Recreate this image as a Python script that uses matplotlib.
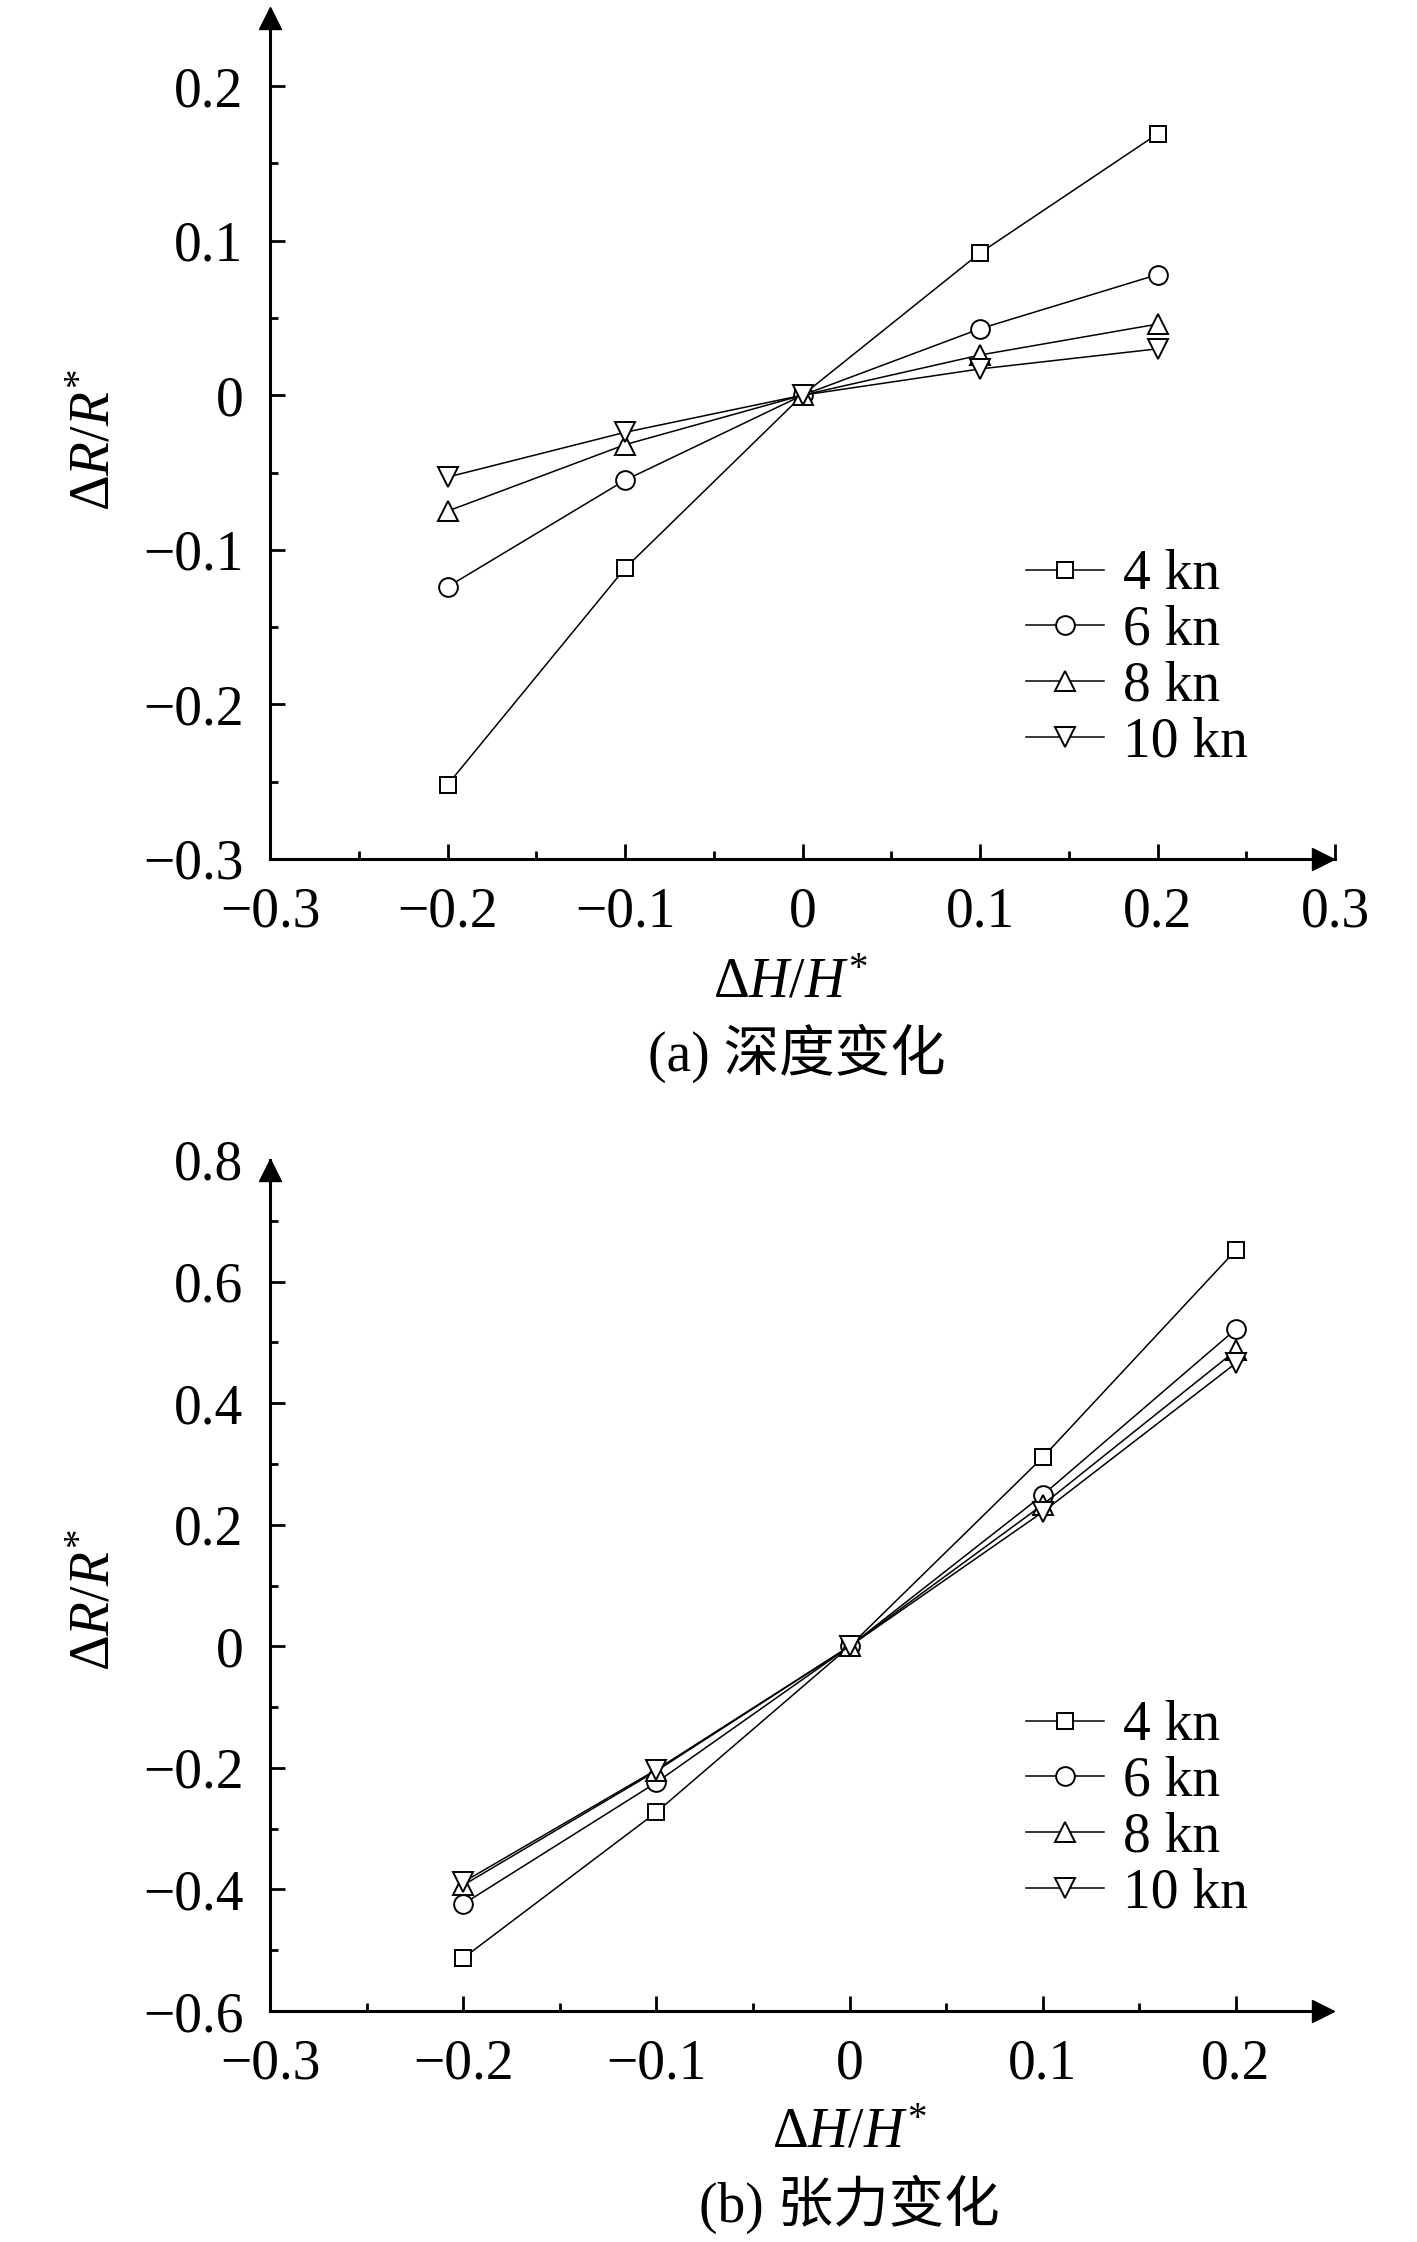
import matplotlib
matplotlib.use('Agg')
import matplotlib.pyplot as plt
import matplotlib.transforms as mtransforms
from matplotlib.ticker import MultipleLocator

plt.rcParams['font.family'] = ['Liberation Serif', 'Noto Sans CJK SC']
plt.rcParams['mathtext.fontset'] = 'custom'
plt.rcParams['mathtext.rm'] = 'Liberation Serif'
plt.rcParams['mathtext.it'] = 'Liberation Serif:italic'

x = [-0.2, -0.1, 0.0, 0.1, 0.2]
labels = ['4 kn', '6 kn', '8 kn', '10 kn']
markers = ['s', 'o', '^', 'v']
msizes = [12, 13.5, 15, 15]

# (a) depth change
depth_4 = [-0.252, -0.112, 0.0, 0.092, 0.169]
depth_6 = [-0.124, -0.055, 0.0, 0.043, 0.078]
depth_8 = [-0.075, -0.032, 0.0, 0.026, 0.046]
depth_10 = [-0.053, -0.024, 0.0, 0.017, 0.030]

# (b) tension change
tens_4 = [-0.513, -0.273, 0.0, 0.311, 0.652]
tens_6 = [-0.424, -0.224, 0.0, 0.249, 0.522]
tens_8 = [-0.393, -0.205, 0.0, 0.233, 0.487]
tens_10 = [-0.388, -0.203, 0.0, 0.221, 0.466]

xticks_a = [-0.3, -0.2, -0.1, 0, 0.1, 0.2, 0.3]
yticks_a = [-0.3, -0.2, -0.1, 0, 0.1, 0.2]
xticks_b = [-0.3, -0.2, -0.1, 0, 0.1, 0.2]
yticks_b = [-0.6, -0.4, -0.2, 0, 0.2, 0.4, 0.6, 0.8]

FS = 40
W, H = 1417, 2242


def fmt(v):
    if abs(v) < 1e-9:
        return '0'
    return ('\u2212' if v < 0 else '') + ('%g' % abs(v))


def px_axes(left, top, right, bottom):
    return [left / W, 1 - bottom / H, (right - left) / W, (bottom - top) / H]


def style_axes(ax, xticks, yticks, xlim, ylim, xminor, yminor):
    ax.set_xlim(*xlim)
    ax.set_ylim(*ylim)
    for s in ['top', 'right']:
        ax.spines[s].set_visible(False)
    for s in ['left', 'bottom']:
        ax.spines[s].set_linewidth(2.2)
    ax.set_xticks(xticks)
    ax.set_xticklabels([fmt(v) for v in xticks])
    ax.set_yticks(yticks)
    ax.set_yticklabels([fmt(v) for v in yticks])
    ax.xaxis.set_minor_locator(MultipleLocator(xminor))
    ax.yaxis.set_minor_locator(MultipleLocator(yminor))
    ax.tick_params(which='major', direction='in', length=11, width=2,
                   labelsize=FS)
    ax.tick_params(which='minor', direction='in', length=5.5, width=2)
    ax.tick_params(axis='x', which='major', pad=20)
    ax.tick_params(axis='y', which='major', pad=19)


def draw_series(ax, series):
    for ys, m, ms, lab in zip(series, markers, msizes, labels):
        ax.plot(x, ys, color='black', lw=1.1, marker=m, markersize=ms,
                markerfacecolor='white', markeredgecolor='black',
                markeredgewidth=1.4, label=lab, clip_on=False)


def add_legend(ax, top_px):
    ax.legend(loc='upper left', bbox_to_anchor=(1026 / W, 1 - top_px / H),
              bbox_transform=fig.transFigure, frameon=False, fontsize=FS,
              handlelength=1.4, handletextpad=0.34, labelspacing=0.07,
              borderpad=0, borderaxespad=0)


fig = plt.figure(figsize=(W / 100, H / 100), dpi=100)

# ---- (a) ----
ax1 = fig.add_axes(px_axes(270, 18, 1335, 859))
draw_series(ax1, [depth_4, depth_6, depth_8, depth_10])
style_axes(ax1, xticks_a, yticks_a, (-0.3, 0.3), (-0.3, 0.244), 0.05, 0.05)
tr = mtransforms.blended_transform_factory(ax1.transData, ax1.transAxes)
ax1.plot(0.2935, 0, '>k', markersize=16.5, transform=tr, clip_on=False)
ax1.plot(0, 1, '^k', markersize=16.5, transform=ax1.transAxes, clip_on=False)
add_legend(ax1, 549)

# ---- (b) ----
ax2 = fig.add_axes(px_axes(270, 1160, 1323, 2011))
draw_series(ax2, [tens_4, tens_6, tens_8, tens_10])
style_axes(ax2, xticks_b, yticks_b, (-0.3, 0.245), (-0.6, 0.8), 0.05, 0.1)
# the arrow head covers the top tick
ax2.yaxis.get_major_ticks()[-1].tick1line.set_visible(False)
ax2.plot(1, 0, '>k', markersize=16.5, transform=ax2.transAxes, clip_on=False)
tr2 = mtransforms.blended_transform_factory(ax2.transAxes, ax2.transData)
ax2.plot(0, 0.784, '^k', markersize=16.5, transform=tr2, clip_on=False)
add_legend(ax2, 1700)

# axis labels and captions
ylab = r'$\Delta R/R^{*}$'
xlab = r'$\Delta H/H^{*}$'
fig.text(95 / W, 1 - 440 / H, ylab, rotation=90, fontsize=FS,
         ha='center', va='center')
fig.text(790 / W, 1 - 983 / H, xlab, fontsize=FS, ha='center', va='center')
fig.text(797 / W, 1 - 1053 / H, '(a) 深度变化', fontsize=FS,
         ha='center', va='center')

fig.text(95 / W, 1 - 1600 / H, ylab, rotation=90, fontsize=FS,
         ha='center', va='center')
fig.text(849 / W, 1 - 2134 / H, xlab, fontsize=FS, ha='center', va='center')
fig.text(849 / W, 1 - 2204 / H, '(b) 张力变化', fontsize=FS,
         ha='center', va='center')

fig.savefig('out.png', dpi=100, facecolor='white')
